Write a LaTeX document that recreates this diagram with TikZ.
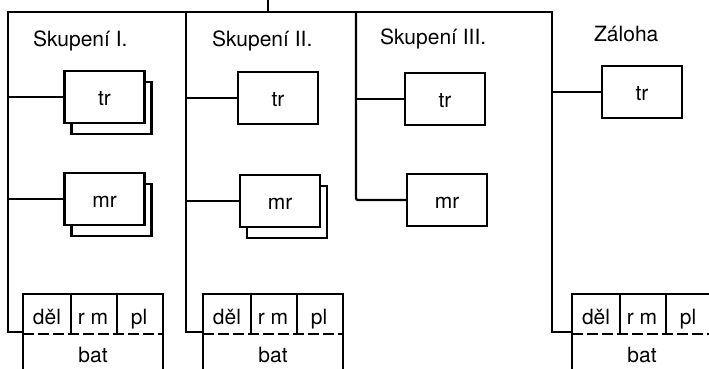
\documentclass[tikz,border=0pt]{standalone}
\usepackage{fontspec}
\setmainfont{TeX Gyre Heros}
\usetikzlibrary{shadows}
\newcommand{\lw}{2.3pt}

\begin{document}
\begin{tikzpicture}[x=1pt, y=-1pt, line width=\lw,
    font=\fontsize{21}{24}\selectfont,
    unit/.style={draw, fill=white, rectangle, minimum width=80pt, minimum height=52pt, inner sep=0pt, text height=16pt, text depth=0pt},
    stack/.style={copy shadow={shadow xshift=7pt, shadow yshift=-11pt, draw=black, fill=white}},
    cell/.style={rectangle, minimum width=46pt, minimum height=38pt, inner sep=0pt, text height=20pt, text depth=0pt},
    batbox/.style={rectangle, minimum width=138pt, minimum height=42pt, inner sep=0pt, text height=16pt, text depth=0pt},
    grouptitle/.style={anchor=base west, inner sep=0pt},
    sep/.style={dash pattern=on 11pt off 4pt}]
    \useasboundingbox (0,0) rectangle (709,369);
    \clip (0,0) rectangle (709,369);

    % Titles
    \node[grouptitle] (title-1) at (32,47) {Skupení I.};
    \node[grouptitle] (title-2) at (211,47) {Skupení II.};
    \node[grouptitle] (title-3) at (379,45) {Skupení III.};
    \node[grouptitle] (title-4) at (593,42) {Záloha};

    % tr row
    \node[unit, stack] (tr-1) at (104.5,97) {tr};
    \node[unit] (tr-2) at (278,98) {tr};
    \node[unit] (tr-3) at (445,99) {tr};
    \node[unit] (tr-4) at (642,92) {tr};

    % mr row
    \node[unit, stack] (mr-1) at (104.5,199) {mr};
    \node[unit, stack] (mr-2) at (280,201) {mr};
    \node[unit] (mr-3) at (447,200) {mr};

    % Batteries
    \node[cell] (del-1) at (47,314) {děl};
    \node[cell] (rm-1) at (93,314) {r m};
    \node[cell] (pl-1) at (139,314) {pl};
    \node[batbox] (bat-1) at (93,354) {bat};

    \node[cell] (del-2) at (227,314) {děl};
    \node[cell] (rm-2) at (273,314) {r m};
    \node[cell] (pl-2) at (319,314) {pl};
    \node[batbox] (bat-2) at (273,354) {bat};

    \node[cell] (del-4) at (596,314) {děl};
    \node[cell] (rm-4) at (642,314) {r m};
    \node[cell] (pl-4) at (688,314) {pl};
    \node[batbox] (bat-4) at (642,354) {bat};

    \draw (bat-1.south west) |- (pl-1.north east) -- (bat-1.south east);
    \draw (del-1.north east) -- (del-1.south east) (rm-1.north east) -- (rm-1.south east);
    \draw[sep] (del-1.south west) -- (pl-1.south east);
    \draw (bat-2.south west) |- (pl-2.north east) -- (bat-2.south east);
    \draw (del-2.north east) -- (del-2.south east) (rm-2.north east) -- (rm-2.south east);
    \draw[sep] (del-2.south west) -- (pl-2.south east);
    \draw (bat-4.south west) |- (pl-4.north east) -- (bat-4.south east);
    \draw (del-4.north east) -- (del-4.south east) (rm-4.north east) -- (rm-4.south east);
    \draw[sep] (del-4.south west) -- (pl-4.south east);

    % Buses
    \coordinate (feed) at (268,0);
    \coordinate (bus-1) at (8,12);
    \coordinate (bus-2) at (186,12);
    \coordinate (bus-3) at (356,12);
    \coordinate (bus-4) at (552,12);
    \draw (feed) -- (feed |- bus-1);
    \draw (bat-1.north west) -| (bus-1) -- (bus-4) |- (bat-4.north west);
    \draw (bus-2) |- (bat-2.north west);
    \draw[rounded corners=2pt] (bus-3) |- (mr-3.west);

    \draw (bus-1 |- tr-1.west) -- (tr-1.west);
    \draw (bus-1 |- mr-1.west) -- (mr-1.west);
    \draw (bus-2 |- tr-2.west) -- (tr-2.west);
    \draw (bus-2 |- mr-2.west) -- (mr-2.west);
    \draw (bus-3 |- tr-3.west) -- (tr-3.west);
    \draw (bus-4 |- tr-4.west) -- (tr-4.west);
\end{tikzpicture}
\end{document}
